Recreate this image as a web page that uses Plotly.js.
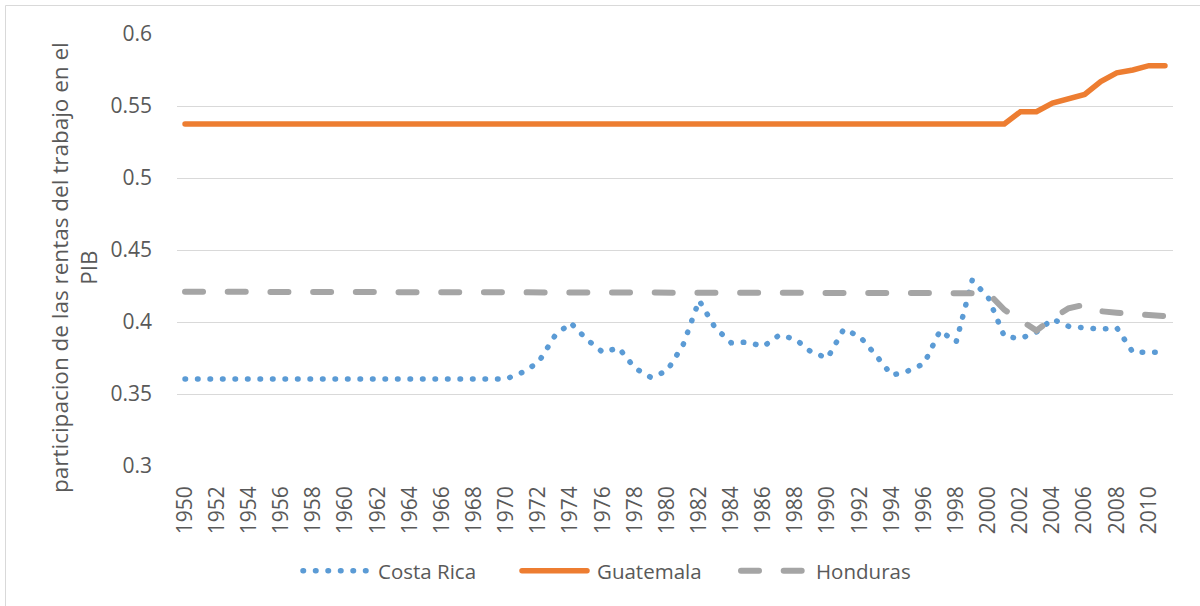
<!DOCTYPE html>
<html>
<head>
<meta charset="utf-8">
<script src="https://cdn.plot.ly/plotly-3.0.1.min.js"></script>
<style>
  html, body { margin: 0; padding: 0; background: #fff; }
  #chart { width: 1200px; height: 606px; }
</style>
</head>
<body>
<div id="chart"></div>
<script>
// ---- data ----
const years = [];
for (let y = 1950; y <= 2011; y++) years.push(y);

const tickYears = [1950,1952,1954,1956,1958,1960,1962,1964,1966,1968,1970,1972,1974,1976,1978,1980,
  1982,1984,1986,1988,1990,1992,1994,1996,1998,2000,2002,2004,2006,2008,2010];

const costaRica = [
  0.3605,0.3605,0.3605,0.3605,0.3605,0.3605,0.3605,0.3605,0.3605,0.3605, // 1950-1959
  0.3605,0.3605,0.3605,0.3605,0.3605,0.3605,0.3605,0.3605,0.3605,0.3605, // 1960-1969
  0.3605,0.365,0.372,0.390,0.3995,0.388,0.379,0.382,0.368,0.3615,        // 1970-1979
  0.366,0.384,0.415,0.396,0.3855,0.386,0.383,0.391,0.388,0.379,          // 1980-1989
  0.375,0.395,0.390,0.377,0.363,0.366,0.371,0.394,0.386,0.429,           // 1990-1999
  0.417,0.390,0.3885,0.393,0.402,0.397,0.396,0.395,0.396,0.379,          // 2000-2009
  0.379,0.379                                                            // 2010-2011
];

const guatemala = [
  0.5375,0.5375,0.5375,0.5375,0.5375,0.5375,0.5375,0.5375,0.5375,0.5375,
  0.5375,0.5375,0.5375,0.5375,0.5375,0.5375,0.5375,0.5375,0.5375,0.5375,
  0.5375,0.5375,0.5375,0.5375,0.5375,0.5375,0.5375,0.5375,0.5375,0.5375,
  0.5375,0.5375,0.5375,0.5375,0.5375,0.5375,0.5375,0.5375,0.5375,0.5375,
  0.5375,0.5375,0.5375,0.5375,0.5375,0.5375,0.5375,0.5375,0.5375,0.5375,
  0.5375,0.5375,0.546,0.546,0.552,0.555,0.558,0.567,0.573,0.575,
  0.578,0.578
];

const honduras = [
  0.421,0.421,0.421,0.421,0.421,0.421,0.421,0.421,0.421,0.421,
  0.421,0.421,0.421,0.421,0.421,0.421,0.421,0.421,0.421,0.421,
  0.421,0.421,0.421,0.421,0.421,0.421,0.421,0.421,0.421,0.421,
  0.421,0.421,0.421,0.421,0.421,0.421,0.421,0.421,0.421,0.421,
  0.421,0.421,0.421,0.421,0.421,0.421,0.421,0.421,0.421,0.421,
  0.420,0.4085,0.401,0.394,0.4025,0.4095,0.412,0.4075,0.4065,0.406,
  0.4045,0.404
];

const seriesNames = ['Costa Rica', 'Guatemala', 'Honduras'];
const yTitle = 'participacion de las rentas del trabajo en el<br>PIB';

// ---- chart ----
const textColor = '#595959';
const gridColor = '#D9D9D9';
const fontFam = '"Open Sans", "Noto Sans", sans-serif';
const fs = 21;

const traces = [
  { x: years, y: costaRica, name: seriesNames[0], type: 'scatter', mode: 'lines',
    line: { color: '#5B9BD5', width: 5.5, dash: '0.5px,12px' } },
  { x: years, y: guatemala, name: seriesNames[1], type: 'scatter', mode: 'lines',
    line: { color: '#ED7D31', width: 5.5 } },
  { x: years, y: honduras, name: seriesNames[2], type: 'scatter', mode: 'lines',
    line: { color: '#A5A5A5', width: 6, dash: '18px,24.7px' } }
];

const W = 1200, H = 606;
const mL = 177, mR = 27, mT = 34, mB = 140;
const pw = W - mL - mR, ph = H - mT - mB;
const px2x = p => (p - mL) / pw;
const px2y = p => (H - mB - p) / ph;

const layout = {
  width: W, height: H,
  margin: { l: mL, r: mR, t: mT, b: mB, pad: 0 },
  paper_bgcolor: '#ffffff', plot_bgcolor: '#ffffff',
  font: { family: fontFam, size: fs, color: textColor },
  showlegend: true,
  legend: {
    orientation: 'h', x: px2x(298), xanchor: 'left', y: px2y(571), yanchor: 'middle',
    font: { family: fontFam, size: 20.5, color: textColor },
    itemwidth: 70, entrywidth: 134, traceorder: 'normal', bgcolor: 'rgba(0,0,0,0)'
  },
  xaxis: {
    type: 'linear', range: [1949.5, 2011.5],
    tickmode: 'array', tickvals: tickYears, ticktext: tickYears.map(String),
    tickangle: -90, ticks: '', showgrid: false, zeroline: false,
    showline: false, ticklabelstandoff: 15,
    tickfont: { family: fontFam, size: fs, color: textColor }
  },
  yaxis: {
    range: [0.3, 0.6], dtick: 0.05, tick0: 0.3,
    showgrid: true, gridcolor: gridColor, gridwidth: 1,
    zeroline: false, showline: false, ticks: '', ticklabelstandoff: 24,
    tickfont: { family: fontFam, size: fs, color: textColor },
    title: { text: '' }
  },
  annotations: [
    { text: yTitle, xref: 'paper', yref: 'paper', x: px2x(74), y: px2y(268),
      xanchor: 'center', yanchor: 'middle', textangle: -90, showarrow: false,
      align: 'center', font: { family: fontFam, size: 22.5, color: textColor } }
  ],
  shapes: [
    { type: 'rect', xref: 'paper', yref: 'paper',
      x0: px2x(5.5), x1: px2x(1230), y0: px2y(5.5), y1: px2y(640),
      line: { color: gridColor, width: 1 }, fillcolor: 'rgba(0,0,0,0)', layer: 'below' }
  ]
};

Plotly.newPlot('chart', traces, layout, { displayModeBar: false, staticPlot: true }).then(gd => {
  gd.querySelectorAll('.scatterlayer path.js-line, .legend path.js-line').forEach(p => {
    p.style.strokeLinecap = 'round';
  });
  gd.querySelectorAll('.legend path.js-line').forEach(p => {
    p.setAttribute('d', 'M5,0h65');
  });
});
</script>
</body>
</html>
